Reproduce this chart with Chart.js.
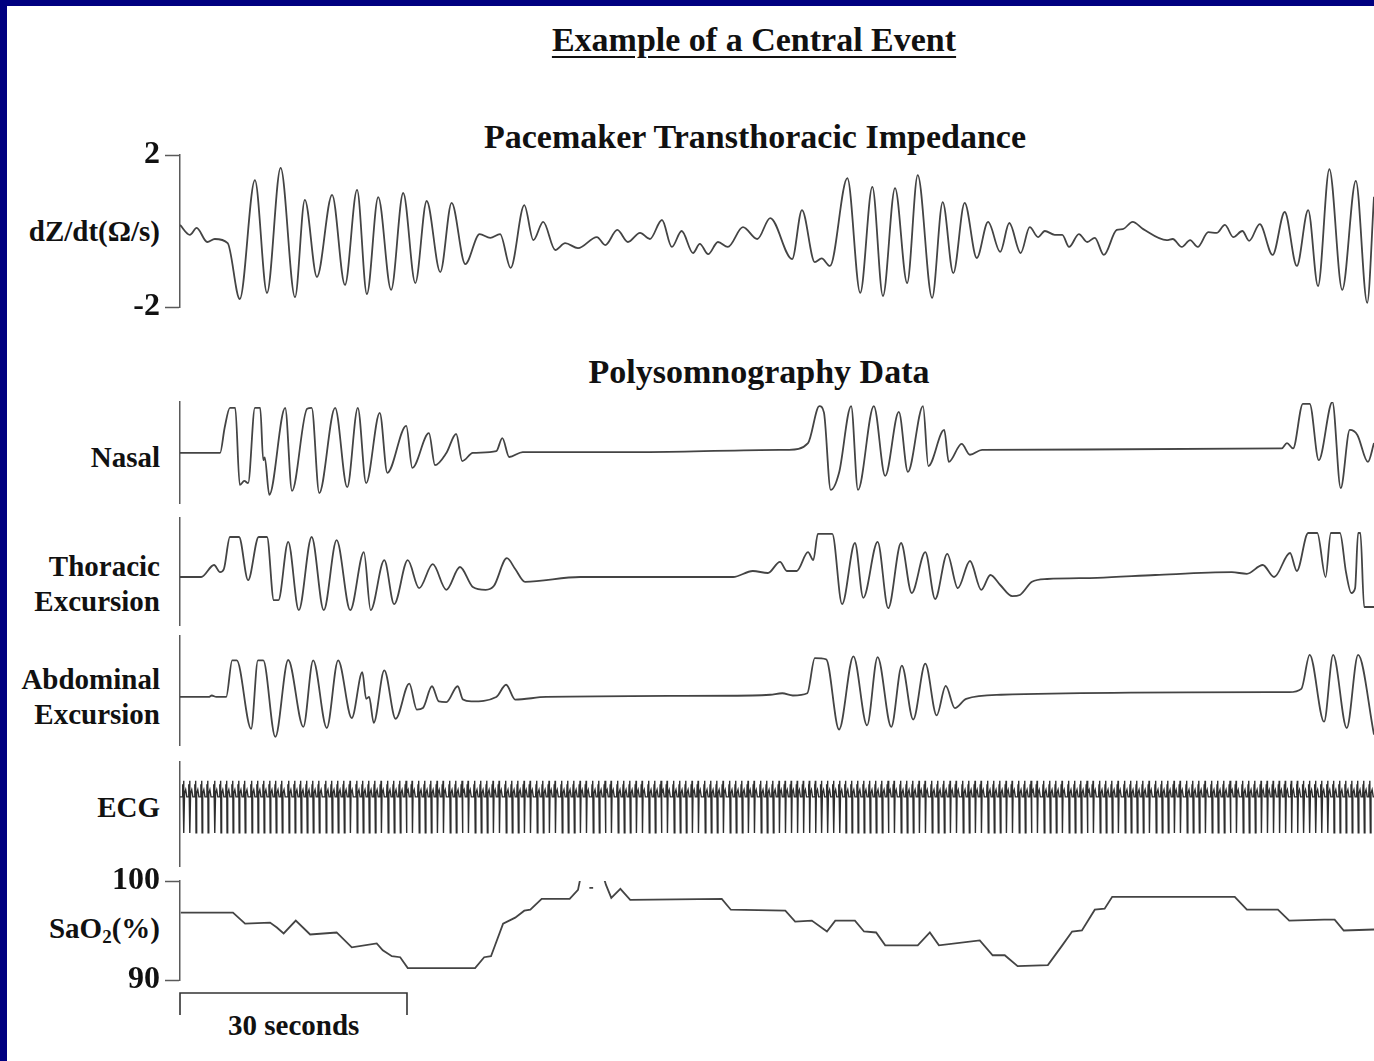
<!DOCTYPE html>
<html>
<head>
<meta charset="utf-8">
<title>Example of a Central Event</title>
<script src="https://cdn.jsdelivr.net/npm/chart.js@4.4.1/dist/chart.umd.min.js"></script>
<style>
    html, body { margin: 0; padding: 0; }
    body {
        position: relative;
        width: 1374px;
        height: 1061px;
        overflow: hidden;
        background: #000080;
        font-family: "Liberation Serif", "Times New Roman", serif;
        font-weight: bold;
        color: #111;
    }
    #sheet { position: absolute; left: 7px; top: 6px; right: 0; bottom: 0; background: #fff; }
    canvas { position: absolute; left: 0; }
    .title { position: absolute; width: 800px; text-align: center; font-size: 34px; line-height: 40px; white-space: nowrap; }
    .lbl { position: absolute; right: 1214px; text-align: right; font-size: 29px; line-height: 34px; white-space: nowrap; }
    .lbl sub { font-size: 19px; vertical-align: -5px; line-height: 0; }
</style>
</head>
<body>
<div id="sheet"></div>

<div class="title" style="left:354px; top:20px; text-decoration:underline; text-decoration-thickness:2px; text-underline-offset:5px;">Example of a Central Event</div>
<div class="title" style="left:355px; top:117px;">Pacemaker Transthoracic Impedance</div>
<div class="title" style="left:359px; top:352px;">Polysomnography Data</div>

<div class="lbl" style="top:214px;">dZ/dt(Ω/s)</div>
<div class="lbl" style="top:440px;">Nasal</div>
<div class="lbl" style="top:549px;">Thoracic</div>
<div class="lbl" style="top:584px;">Excursion</div>
<div class="lbl" style="top:662px;">Abdominal</div>
<div class="lbl" style="top:697px;">Excursion</div>
<div class="lbl" style="top:790px;">ECG</div>
<div class="lbl" style="top:911px;">SaO<sub>2</sub>(%)</div>
<div class="lbl" style="top:1008px; right:auto; left:228px;">30 seconds</div>

<canvas id="impedance" width="1374" height="222" style="top:120px"></canvas>
<canvas id="nasal" width="1374" height="115" style="top:395px"></canvas>
<canvas id="thoracic" width="1374" height="121" style="top:511px"></canvas>
<canvas id="abdominal" width="1374" height="123" style="top:629px"></canvas>
<canvas id="ecg" width="1374" height="118" style="top:755px"></canvas>
<canvas id="sao2" width="1374" height="211" style="top:850px"></canvas>

<script>
// time axis in seconds
const timeSpan = 157.8;
const scaleBarSeconds = 30;

// [seconds, dZ/dt]
const impedanceTrace = [
    [0.0, 0.16], [1.3, -0.1], [2.2, 0.08], [3.6, -0.29], [4.6, -0.21], [6.3, -0.32], [7.9, -1.79], [9.9, 1.34],
    [11.5, -1.63], [13.3, 1.66], [15.2, -1.74], [16.5, 0.82], [18.1, -1.21], [20.1, 0.95], [21.8, -1.42], [23.4, 1.08],
    [24.7, -1.66], [26.2, 0.89], [27.9, -1.55], [29.5, 1.0], [31.1, -1.37], [32.6, 0.79], [34.4, -1.08], [35.9, 0.74],
    [37.7, -0.87], [39.6, -0.08], [41.0, -0.18], [42.3, -0.08], [43.7, -0.97], [45.5, 0.68], [46.7, -0.24], [48.0, 0.24],
    [49.6, -0.5], [50.9, -0.32], [52.6, -0.45], [55.1, -0.16], [56.2, -0.37], [57.8, 0.03], [59.2, -0.29], [60.8, -0.05],
    [62.1, -0.21], [63.7, 0.29], [65.0, -0.42], [66.3, 0.0], [67.8, -0.58], [68.7, -0.34], [69.8, -0.61], [71.1, -0.29],
    [72.4, -0.42], [74.4, 0.1], [76.3, -0.21], [78.0, 0.34], [80.9, -0.74], [82.2, 0.55], [83.9, -0.82], [84.8, -0.72],
    [85.9, -0.92], [88.2, 1.39], [89.9, -1.63], [91.5, 1.16], [92.9, -1.71], [94.5, 1.13], [96.1, -1.37], [97.5, 1.47],
    [99.4, -1.76], [100.8, 0.76], [102.2, -1.11], [103.7, 0.74], [105.3, -0.71], [106.8, 0.24], [108.4, -0.55], [109.6, 0.21],
    [111.1, -0.58], [112.3, 0.1], [113.4, -0.16], [114.3, 0.0], [115.6, -0.1], [116.6, -0.1], [117.5, -0.42], [118.8, -0.08],
    [119.9, -0.29], [120.9, -0.18], [122.1, -0.63], [123.8, 0.03], [124.6, 0.05], [125.9, 0.24], [127.3, 0.05], [130.4, -0.24],
    [131.2, -0.21], [132.4, -0.42], [133.5, -0.24], [134.5, -0.42], [135.9, -0.03], [137.0, -0.05], [138.1, 0.16], [139.2, -0.16],
    [140.4, 0.0], [141.3, -0.26], [142.7, 0.18], [144.4, -0.63], [146.0, 0.5], [147.6, -0.92], [149.1, 0.55], [150.4, -1.45],
    [151.9, 1.63], [153.6, -1.55], [155.4, 1.32], [156.9, -1.89], [157.8, 0.9]
];
const impedanceTicks = [-2, 2];

// [seconds, relative amplitude]
const nasalTrace = [
    [0.0, 0], [5.3, 0], [5.9, 0.56], [6.6, 1.0], [7.3, 1.0], [7.9, -0.71], [8.5, -0.62], [9.0, -0.67],
    [9.9, 1.0], [10.6, 1.0], [11.0, -0.16], [11.2, -0.1], [11.8, -0.93], [13.9, 1.0], [14.8, -0.84], [16.8, 0.98],
    [17.4, 1.0], [18.4, -0.89], [20.5, 1.0], [22.1, -0.76], [23.5, 1.0], [24.6, -0.67], [26.4, 0.89], [27.4, -0.44],
    [29.9, 0.6], [30.7, -0.33], [32.9, 0.44], [33.7, -0.27], [35.2, 0.0], [36.5, 0.42], [37.3, -0.18], [38.7, 0.0],
    [41.8, 0.04], [42.6, 0.33], [43.5, -0.09], [45.3, 0.02], [62.0, 0.02], [79.2, 0.07], [80.5, 0.07], [83.0, 0.22],
    [84.5, 1.04], [85.1, 0.9], [86.0, -0.82], [87.1, -0.44], [88.7, 1.04], [89.6, -0.82], [91.7, 1.04], [93.2, -0.51],
    [95.0, 0.91], [96.2, -0.42], [98.2, 1.04], [98.9, -0.29], [101.0, 0.51], [101.6, -0.2], [103.3, 0.2], [104.4, -0.04],
    [106.0, 0.07], [145.6, 0.1], [146.3, 0.22], [147.1, 0.1], [148.4, 1.09], [149.3, 1.09], [150.5, -0.16], [152.3, 1.13],
    [153.4, -0.78], [154.6, 0.51], [155.6, 0.4], [157.0, -0.2], [157.8, 0.22]
];

const thoracicTrace = [
    [0.0, 0], [2.8, 0], [4.5, 0.3], [5.3, 0.12], [5.8, 0.2], [6.6, 1.0], [7.8, 1.0], [9.0, -0.08],
    [10.4, 1.0], [11.5, 1.0], [12.4, -0.58], [13.0, -0.58], [14.3, 0.88], [15.7, -0.83], [17.4, 1.0], [19.0, -0.83],
    [20.7, 0.92], [22.5, -0.83], [24.3, 0.62], [25.2, -0.83], [27.0, 0.42], [28.3, -0.68], [30.1, 0.42], [31.6, -0.28],
    [33.4, 0.32], [35.2, -0.32], [37.0, 0.25], [38.7, -0.25], [40.4, -0.32], [41.5, -0.22], [43.2, 0.47], [44.3, 0.2],
    [45.6, -0.12], [52.9, 0], [60.5, 0], [73.1, 0], [75.7, 0.15], [77.7, 0.1], [79.3, 0.38], [80.2, 0.15],
    [81.5, 0.15], [83.0, 0.62], [83.7, 0.42], [84.3, 1.08], [86.2, 1.08], [87.5, -0.68], [89.2, 0.85], [90.3, -0.52],
    [92.2, 0.88], [93.6, -0.78], [95.3, 0.85], [96.7, -0.4], [98.5, 0.62], [99.8, -0.55], [101.4, 0.58], [102.8, -0.28],
    [104.4, 0.4], [105.9, -0.32], [107.1, 0.05], [108.4, -0.2], [110.0, -0.48], [111.0, -0.45], [112.6, -0.12], [114.6, -0.05],
    [121.2, -0.02], [128.9, 0.05], [139.0, 0.12], [141.0, 0.08], [143.1, 0.3], [144.6, 0], [146.7, 0.6], [147.6, 0.15],
    [149.1, 1.1], [150.3, 1.1], [151.4, 0], [152.1, 1.1], [153.3, 1.1], [154.1, 0.12], [154.8, -0.4], [155.3, -0.28],
    [155.7, 1.1], [156.0, 1.1], [156.5, -0.75], [157.8, -0.75]
];

const abdominalTrace = [
    [0.0, 0], [3.8, 0], [4.2, 0.04], [4.8, 0], [6.1, 0], [6.9, 0.99], [7.5, 0.99], [9.4, -0.86],
    [10.3, 0.99], [11.0, 0.99], [12.6, -1.08], [14.3, 1.0], [16.3, -0.81], [17.6, 0.99], [19.4, -0.84], [20.9, 0.99],
    [22.7, -0.57], [24.1, 0.67], [24.6, -0.05], [25.0, 0], [25.6, -0.7], [27.0, 0.72], [28.5, -0.59], [30.3, 0.36],
    [31.3, -0.34], [32.1, -0.3], [33.3, 0.29], [34.2, -0.12], [35.2, -0.14], [36.7, 0.29], [37.4, -0.07], [38.5, -0.12],
    [41.8, 0], [43.1, 0.33], [44.3, -0.07], [48.4, 0], [75.7, 0.04], [78.0, 0.06], [79.6, 0.1], [81.0, 0.04],
    [82.9, 0.1], [83.9, 1.05], [85.4, 1.02], [87.1, -0.88], [89.0, 1.1], [90.8, -0.77], [92.2, 1.08], [94.0, -0.81],
    [95.4, 0.85], [96.9, -0.61], [98.5, 0.9], [100.0, -0.5], [101.2, 0.3], [102.4, -0.3], [103.9, -0.05], [108.5, 0.06],
    [144.1, 0.13], [146.6, 0.13], [148.2, 0.22], [149.3, 1.14], [151.2, -0.67], [152.4, 1.14], [154.2, -0.84], [155.7, 1.14],
    [157.8, -1.02]
];

// beat onsets (s) and one beat's shape [s after onset, amplitude]
const ecgBeatTimes = [
    0.3, 1.1, 1.9, 2.7, 3.5, 4.4, 5.2, 6.0, 6.8, 7.6,
    8.4, 9.3, 10.1, 10.9, 11.7, 12.5, 13.3, 14.2, 15.0, 15.8,
    16.6, 17.4, 18.2, 19.1, 19.9, 20.7, 21.5, 22.3, 23.2, 24.0,
    24.8, 25.6, 26.4, 27.3, 28.1, 28.9, 29.7, 30.5, 31.4, 32.2,
    33.0, 33.8, 34.6, 35.5, 36.3, 37.1, 37.9, 38.8, 39.6, 40.4,
    41.2, 42.0, 42.9, 43.7, 44.5, 45.3, 46.1, 47.0, 47.8, 48.6,
    49.4, 50.3, 51.1, 51.9, 52.7, 53.5, 54.4, 55.2, 56.0, 56.8,
    57.7, 58.5, 59.3, 60.1, 60.9, 61.8, 62.6, 63.4, 64.2, 65.1,
    65.9, 66.7, 67.5, 68.3, 69.2, 70.0, 70.8, 71.6, 72.5, 73.3,
    74.1, 74.9, 75.7, 76.6, 77.4, 78.2, 79.0, 79.8, 80.6, 81.4,
    82.2, 83.0, 83.8, 84.6, 85.4, 86.2, 87.0, 87.8, 88.6, 89.4,
    90.2, 91.0, 91.8, 92.6, 93.4, 94.2, 95.1, 95.9, 96.7, 97.5,
    98.3, 99.2, 100.0, 100.8, 101.6, 102.4, 103.3, 104.1, 104.9, 105.7,
    106.6, 107.4, 108.2, 109.0, 109.8, 110.7, 111.5, 112.3, 113.1, 114.0,
    114.8, 115.6, 116.4, 117.3, 118.1, 118.9, 119.7, 120.5, 121.4, 122.2,
    123.0, 123.8, 124.7, 125.5, 126.3, 127.1, 127.9, 128.8, 129.6, 130.4,
    131.2, 132.0, 132.9, 133.7, 134.5, 135.3, 136.2, 137.0, 137.8, 138.6,
    139.4, 140.3, 141.1, 141.9, 142.7, 143.5, 144.3, 145.1, 145.9, 146.7,
    147.5, 148.3, 149.1, 149.9, 150.7, 151.5, 152.3, 153.1, 153.9, 154.7,
    155.5, 156.3, 157.1
];
const ecgBeatShape = [[0, 0], [0.06, 0.35], [0.12, 0.05], [0.17, 0.45], [0.22, -1.0], [0.3, 0.1], [0.45, 0.2], [0.6, 0]];

// [seconds, SaO2 %], null where the trace runs off the top
const sao2Trace = [
    [0.1, 96.8], [7.0, 96.8], [8.6, 95.7], [11.9, 95.8], [12.8, 95.3], [13.7, 94.7], [15.3, 96.0], [17.2, 94.6],
    [20.7, 94.8], [22.7, 93.3], [26.0, 93.7], [26.8, 93.0], [28.0, 92.4], [29.1, 92.3], [30.1, 91.2], [39.0, 91.2],
    [40.2, 92.3], [41.1, 92.4], [42.7, 95.7], [44.3, 96.3], [45.5, 97.0], [46.3, 97.1], [47.8, 98.2], [51.5, 98.2],
    [52.6, 99.1], [53.0, 100.6], [53.5, null], [54.1, 99.3], [54.6, 99.3], [55.0, null], [55.9, 100.6], [56.3, 99.6],
    [57.0, 98.3], [58.2, 99.2], [59.5, 98.1], [71.6, 98.2], [72.8, 97.1], [80.0, 97.0], [81.3, 95.9], [83.5, 96.0],
    [85.5, 94.9], [86.6, 96.0], [89.2, 96.0], [90.4, 94.9], [92.0, 94.8], [93.2, 93.5], [97.5, 93.5], [99.1, 94.8],
    [100.3, 93.5], [105.7, 94.0], [107.4, 92.5], [109.0, 92.5], [110.7, 91.4], [114.7, 91.5], [116.6, 93.5], [117.9, 94.9],
    [119.2, 95.0], [120.9, 97.1], [122.2, 97.2], [123.2, 98.4], [139.4, 98.4], [141.0, 97.1], [145.1, 97.1], [146.6, 96.0],
    [151.2, 96.1], [152.6, 96.1], [153.8, 95.0], [157.8, 95.1]
];
const sao2Ticks = [90, 100];

const traceColor = '#444';
const ecgColor = '#2e2e2e';
const axisColor = '#5a5a5a';
const serif = '"Liberation Serif", "Times New Roman", serif';

function toPoints(arr) {
    return arr.map(([x, y]) => ({ x, y }));
}

function ecgPoints() {
    const out = [{ x: 0, y: 0 }];
    ecgBeatTimes.forEach((t) => {
        ecgBeatShape.forEach(([dt, v]) => out.push({ x: t + dt, y: v }));
    });
    out.push({ x: timeSpan, y: 0 });
    return out;
}

// 30 s bracket under the SaO2 trace, placed with the x scale
const scaleBar = {
    id: 'scaleBar',
    afterDraw(chart, args, opts) {
        if (!opts.seconds) return;
        const x = chart.scales.x;
        const x0 = x.getPixelForValue(0);
        const x1 = x.getPixelForValue(opts.seconds);
        const y0 = chart.chartArea.bottom + 13;
        const y1 = y0 + 22;
        const ctx = chart.ctx;
        ctx.save();
        ctx.strokeStyle = '#333';
        ctx.lineWidth = 1.6;
        ctx.beginPath();
        ctx.moveTo(x0, y1);
        ctx.lineTo(x0, y0);
        ctx.lineTo(x1, y0);
        ctx.lineTo(x1, y1);
        ctx.stroke();
        ctx.restore();
    },
};

function makePanel(id, points, o) {
    const y = {
        min: o.min,
        max: o.max,
        afterFit: (s) => { s.width = 180; },
        ticks: {
            display: !!o.ticks,
            color: '#111',
            padding: 5,
            font: { family: serif, size: 32, weight: 'bold' },
            callback: (v) => String(v),
        },
        grid: {
            drawOnChartArea: false,
            drawTicks: !!o.ticks,
            tickLength: 15,
            tickColor: axisColor,
            tickWidth: 1.5,
        },
        border: { display: true, color: axisColor, width: 1.5 },
    };
    if (o.ticks) y.afterBuildTicks = (s) => { s.ticks = o.ticks.map((v) => ({ value: v })); };

    return new Chart(document.getElementById(id), {
        type: 'line',
        data: {
            datasets: [{
                data: points,
                borderColor: o.color || traceColor,
                borderWidth: o.width || 1.8,
                pointRadius: 0,
                tension: 0,
                cubicInterpolationMode: o.smooth ? 'monotone' : 'default',
                spanGaps: false,
            }],
        },
        options: {
            responsive: false,
            animation: false,
            events: [],
            layout: { padding: { top: o.padTop, bottom: o.padBottom, left: 0, right: 0 } },
            plugins: {
                legend: { display: false },
                tooltip: { enabled: false },
                scaleBar: { seconds: o.scaleBar || 0 },
            },
            scales: {
                x: { type: 'linear', min: 0, max: timeSpan, display: false },
                y,
            },
        },
        plugins: [scaleBar],
    });
}

makePanel('impedance', toPoints(impedanceTrace), { min: -2, max: 2, ticks: impedanceTicks, padTop: 35, padBottom: 35, smooth: true });
makePanel('nasal', toPoints(nasalTrace), { min: -1.11, max: 1.13, padTop: 7, padBottom: 7, smooth: true });
makePanel('thoracic', toPoints(thoracicTrace), { min: -1.2, max: 1.475, padTop: 7, padBottom: 7, smooth: true });
makePanel('abdominal', toPoints(abdominalTrace), { min: -1.3, max: 1.65, padTop: 7, padBottom: 7, smooth: true });
makePanel('ecg', ecgPoints(), { min: -1.92, max: 0.97, padTop: 7, padBottom: 7, width: 1.4, color: ecgColor });
makePanel('sao2', toPoints(sao2Trace), { min: 90, max: 100, ticks: sao2Ticks, padTop: 31, padBottom: 81, scaleBar: scaleBarSeconds });
</script>
</body>
</html>
